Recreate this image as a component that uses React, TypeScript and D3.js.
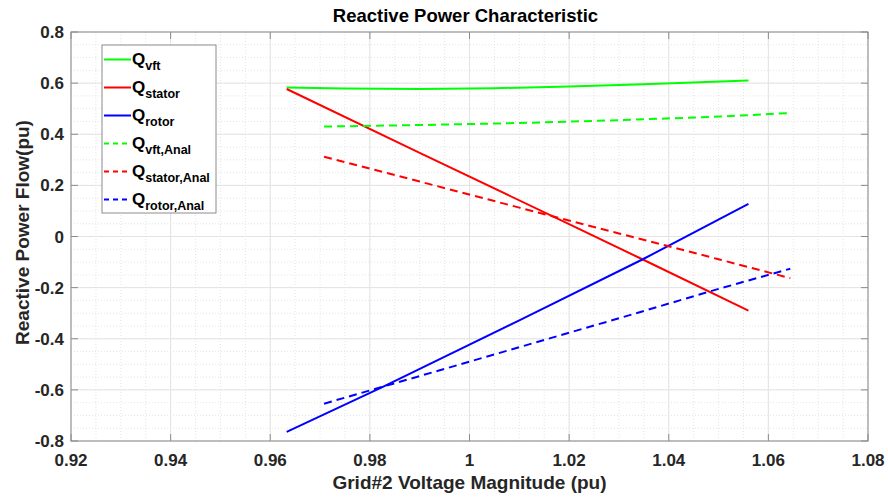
import React from 'react';
import * as d3 from 'd3';

// measured voltages (pu)
const simV = [0.9633, 0.975, 0.99, 1.005, 1.02, 1.035, 1.056];
const statorV = [0.9633, 0.99, 1.0181, 1.0349, 1.056];
const rotorV = [0.9633, 0.9826, 1.01, 1.0349, 1.056];
const analV = [0.9708, 0.99, 1.01, 1.03, 1.05, 1.0644];

// reactive power (pu)
const qVft = [0.583, 0.579, 0.577, 0.58, 0.587, 0.596, 0.61];
const qStator = [0.577, 0.327, 0.066, -0.091, -0.29];
const qRotor = [-0.764, -0.588, -0.328, -0.088, 0.128];
const qVftAnal = [0.43, 0.436, 0.444, 0.455, 0.469, 0.483];
const qStatorAnal = [0.312, 0.215, 0.113, 0.012, -0.089, -0.163];
const qRotorAnal = [-0.654, -0.546, -0.433, -0.32, -0.205, -0.126];

const xTicks = [0.92, 0.94, 0.96, 0.98, 1, 1.02, 1.04, 1.06, 1.08];
const yTicks = [-0.8, -0.6, -0.4, -0.2, 0, 0.2, 0.4, 0.6, 0.8];

const series = [
  { base: 'vft', sub: 'vft', xs: simV, ys: qVft, color: '#00ff00', dash: '' },
  { base: 'stator', sub: 'stator', xs: statorV, ys: qStator, color: '#ff0000', dash: '' },
  { base: 'rotor', sub: 'rotor', xs: rotorV, ys: qRotor, color: '#0000ff', dash: '' },
  { base: 'vftA', sub: 'vft,Anal', xs: analV, ys: qVftAnal, color: '#00ff00', dash: '8,5' },
  { base: 'statorA', sub: 'stator,Anal', xs: analV, ys: qStatorAnal, color: '#ff0000', dash: '8,5' },
  { base: 'rotorA', sub: 'rotor,Anal', xs: analV, ys: qRotorAnal, color: '#0000ff', dash: '8,5' },
];

const W = 888;
const H = 498;
const margin = { top: 32, right: 20, bottom: 57, left: 71 };
const font = '"Liberation Sans", Arial, sans-serif';

export default function App() {
  const pw = W - margin.left - margin.right;
  const ph = H - margin.top - margin.bottom;

  const x = d3.scaleLinear().domain([0.92, 1.08]).range([0, pw]);
  const y = d3.scaleLinear().domain([-0.8, 0.8]).range([ph, 0]);

  const line = d3
    .line<[number, number]>()
    .x((d) => x(d[0]))
    .y((d) => y(d[1]));

  const xMinor = d3.range(0, 33).map((i) => 0.92 + i * 0.005);
  const yMinor = d3.range(0, 33).map((i) => -0.8 + i * 0.05);

  const fmt = (v: number) => String(Math.round(v * 100) / 100);

  return (
    <svg width={W} height={H} style={{ position: 'absolute', left: 0, top: 0, background: '#fff' }} fontFamily={font}>
      <text x={margin.left + pw / 2 - 4} y={22} textAnchor="middle" fontSize={18.5} fontWeight="bold" fill="#000">
        Reactive Power Characteristic
      </text>
      <g transform={`translate(${margin.left}, ${margin.top})`}>
        <rect x={0} y={0} width={pw} height={ph} fill="#fff" />
        {/* minor grid */}
        {xMinor.map((v, i) => (
          <line key={'xm' + i} x1={x(v)} x2={x(v)} y1={0} y2={ph} stroke="#d8d8d8" strokeWidth={0.7} strokeDasharray="1,2" />
        ))}
        {yMinor.map((v, i) => (
          <line key={'ym' + i} x1={0} x2={pw} y1={y(v)} y2={y(v)} stroke="#d8d8d8" strokeWidth={0.7} strokeDasharray="1,2" />
        ))}
        {/* major grid */}
        {xTicks.map((v) => (
          <line key={'xg' + v} x1={x(v)} x2={x(v)} y1={0} y2={ph} stroke="#e3e3e3" strokeWidth={1} />
        ))}
        {yTicks.map((v) => (
          <line key={'yg' + v} x1={0} x2={pw} y1={y(v)} y2={y(v)} stroke="#e3e3e3" strokeWidth={1} />
        ))}

        {series.map((s) => (
          <path
            key={s.base}
            d={line(s.xs.map((v, i) => [v, s.ys[i]] as [number, number])) || ''}
            fill="none"
            stroke={s.color}
            strokeWidth={2}
            strokeDasharray={s.dash || undefined}
          />
        ))}

        {/* box & ticks */}
        <rect x={0} y={0} width={pw} height={ph} fill="none" stroke="#8c8c8c" strokeWidth={1} />
        {xTicks.map((v) => (
          <g key={'xt' + v}>
            <line x1={x(v)} x2={x(v)} y1={ph} y2={ph - 7} stroke="#8c8c8c" />
            <line x1={x(v)} x2={x(v)} y1={0} y2={7} stroke="#8c8c8c" />
            <text x={x(v)} y={ph + 25} textAnchor="middle" fontSize={17} fontWeight="bold" fill="#262626">
              {fmt(v)}
            </text>
          </g>
        ))}
        {yTicks.map((v) => (
          <g key={'yt' + v}>
            <line x1={0} x2={7} y1={y(v)} y2={y(v)} stroke="#8c8c8c" />
            <line x1={pw} x2={pw - 7} y1={y(v)} y2={y(v)} stroke="#8c8c8c" />
            <text x={-7} y={y(v) + 6} textAnchor="end" fontSize={17} fontWeight="bold" fill="#262626">
              {fmt(v)}
            </text>
          </g>
        ))}

        <text x={pw / 2} y={ph + 48} textAnchor="middle" fontSize={19} fontWeight="bold" fill="#262626">
          Grid#2 Voltage Magnitude (pu)
        </text>
        <text
          transform={`translate(${-42}, ${ph / 2 - 4}) rotate(-90)`}
          textAnchor="middle"
          fontSize={19}
          fontWeight="bold"
          fill="#262626"
        >
          Reactive Power Flow(pu)
        </text>

        {/* legend */}
        <g transform="translate(31, 13)">
          <rect x={0} y={0} width={114} height={168} fill="#fff" stroke="#8c8c8c" strokeWidth={1} />
          {series.map((s, i) => (
            <g key={'lg' + s.base} transform={`translate(0, ${14.5 + i * 28})`}>
              <line x1={2} x2={29} y1={0} y2={0} stroke={s.color} strokeWidth={2} strokeDasharray={s.dash ? '5,4' : undefined} />
              <text x={30} y={5} fontSize={17} fontWeight="bold" fill="#000">
                Q
                <tspan fontSize={12.5} dy={5}>
                  {s.sub}
                </tspan>
              </text>
            </g>
          ))}
        </g>
      </g>
    </svg>
  );
}
